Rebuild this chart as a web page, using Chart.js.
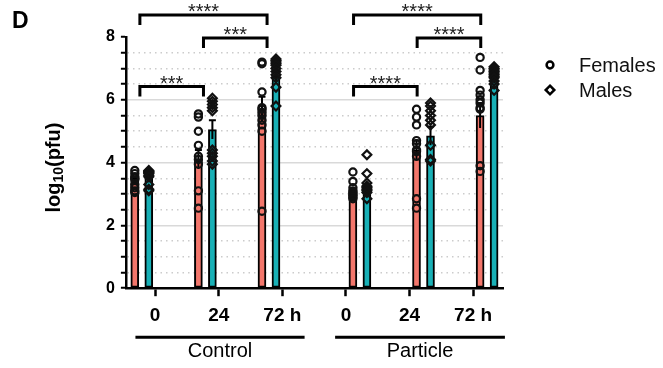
<!DOCTYPE html>
<html>
<head>
<meta charset="utf-8">
<script src="https://cdn.jsdelivr.net/npm/chart.js@4.4.0/dist/chart.umd.min.js"></script>
<style>
  html, body { margin: 0; padding: 0; background: #fff; }
  #wrap { width: 663px; height: 368px; }
</style>
</head>
<body>
<div id="wrap"><canvas id="pfuChart" width="663" height="368"></canvas></div>
<script>
// Virus titre, log10(pfu)

const timeLabels = ['0', '24', '72 h'];
const groupNames = ['Control', 'Particle'];

const controlFemaleMean = [3.4, 4.1, 5.7];
const controlFemaleSem = [0.08, 0.3, 0.4];
const controlMaleMean = [3.55, 5.05, 6.75];
const controlMaleSem = [0.07, 0.3, 0.15];
const particleFemaleMean = [3.0, 4.4, 5.5];
const particleFemaleSem = [0.1, 0.3, 0.4];
const particleMaleMean = [3.15, 4.85, 6.7];
const particleMaleSem = [0.12, 0.3, 0.08];

const controlFemalePoints = [
    [3.75, 3.65, 3.55, 3.5, 3.45, 3.3, 3.2, 3.1, 3.05],
    [5.55, 5.45, 5.0, 4.55, 4.2, 4.1, 3.95, 3.1, 2.55],
    [7.2, 7.15, 6.25, 5.75, 5.7, 5.6, 5.5, 5.35, 5.2, 5.0, 2.45]
];
const controlMalePoints = [
    [3.75, 3.72, 3.7, 3.68, 3.65, 3.6, 3.55, 3.3, 3.15, 3.1],
    [6.05, 5.95, 5.85, 5.75, 5.65, 4.4, 4.3, 4.2, 4.05, 3.95],
    [7.3, 7.25, 7.2, 7.15, 7.1, 7.0, 6.9, 6.8, 6.7, 6.4, 5.8]
];
const particleFemalePoints = [
    [3.7, 3.4, 3.2, 3.1, 3.05, 3.0, 2.95, 2.9, 2.85],
    [5.7, 5.45, 5.2, 4.7, 4.6, 4.4, 4.35, 4.2, 2.85, 2.55],
    [7.35, 6.95, 6.3, 6.15, 6.0, 5.9, 5.75, 5.7, 3.9, 3.72]
];
const particleMalePoints = [
    [4.25, 3.65, 3.35, 3.25, 3.2, 3.15, 3.1, 3.05, 2.85],
    [5.9, 5.8, 5.65, 5.5, 5.35, 5.2, 4.55, 4.1, 4.05],
    [7.05, 7.0, 6.95, 6.9, 6.85, 6.8, 6.75, 6.7, 6.6, 6.5, 6.3]
];

// significance brackets: group, from time, to time, stars, tier
const comparisons = [
    [0, 0, 1, '***', 0],
    [0, 1, 2, '***', 1],
    [0, 0, 2, '****', 2],
    [1, 0, 1, '****', 0],
    [1, 1, 2, '****', 1],
    [1, 0, 2, '****', 2]
];

const femaleColor = '#f3766b';
const maleColor = '#18b0b6';
const FONT = "'Liberation Sans', Arial, sans-serif";

// every group has 3 time points; slot index on the x axis = group*3 + time
const allLabels = groupNames.flatMap(() => timeLabels);
const barOffset = { cf: -0.32, cm: -0.1, pf: 0.11, pm: 0.33 };
const tierLevel = [6.42, 7.97, 8.7];
const legOffset = [-0.24, 0.12];
const groupLineSpan = [[-0.31, 2.35], [-0.17, 2.5]];

const barSet = (label, means, sems, group, off, color) => ({
    type: 'bar',
    label: label,
    data: means.map((m, i) => ({ x: group * 3 + i + off, y: m })),
    sem: sems,
    backgroundColor: color,
    borderColor: '#000',
    borderWidth: 2,
    borderSkipped: false,
    barThickness: 8,
    grouped: false,
    order: 2
});

const pointSet = (label, pts, group, off, style) => ({
    type: 'scatter',
    label: label,
    data: pts.flatMap((arr, i) => arr.map(v => ({ x: group * 3 + i + off, y: v }))),
    pointStyle: style,
    pointRadius: style === 'circle' ? 3.6 : 4.4,
    borderWidth: 2.2,
    borderColor: '#111',
    backgroundColor: 'rgba(0,0,0,0)',
    clip: false,
    order: 1
});

const errorBars = {
    id: 'errorBars',
    afterDatasetDraw(chart, args) {
        const ds = chart.data.datasets[args.index];
        if (!ds.sem) return;
        const ctx = chart.ctx;
        const y = chart.scales.y;
        ctx.save();
        ctx.strokeStyle = '#000';
        ctx.lineWidth = 2;
        args.meta.data.forEach((bar, i) => {
            const m = ds.data[i].y, s = ds.sem[i];
            const top = y.getPixelForValue(m + s);
            const bot = y.getPixelForValue(m - s);
            ctx.beginPath();
            ctx.moveTo(bar.x, bot);
            ctx.lineTo(bar.x, top);
            ctx.moveTo(bar.x - 3.5, top);
            ctx.lineTo(bar.x + 3.5, top);
            ctx.stroke();
        });
        ctx.restore();
    }
};

const annotations = {
    id: 'annotations',
    afterDraw(chart) {
        const ctx = chart.ctx;
        const x = chart.scales.x, y = chart.scales.y;
        const area = chart.chartArea;
        ctx.save();

        // panel letter
        ctx.fillStyle = '#000';
        ctx.font = 'bold 23px ' + FONT;
        ctx.textAlign = 'left';
        ctx.textBaseline = 'alphabetic';
        ctx.fillText('D', 12, 28);

        // y title with subscript
        ctx.save();
        ctx.translate(54, (area.top + area.bottom) / 2 + 5);
        ctx.rotate(-Math.PI / 2);
        const big = 'bold 20px ' + FONT, small = 'bold 14px ' + FONT;
        ctx.font = big; const w1 = ctx.measureText('log').width, w3 = ctx.measureText('(pfu)').width;
        ctx.font = small; const w2 = ctx.measureText('10').width;
        let cx = -(w1 + w2 + w3) / 2;
        ctx.textBaseline = 'middle';
        ctx.font = big; ctx.fillText('log', cx, 0); cx += w1;
        ctx.font = small; ctx.fillText('10', cx, 5); cx += w2;
        ctx.font = big; ctx.fillText('(pfu)', cx, 0);
        ctx.restore();

        // group lines and names
        const lineY = area.bottom + 49;
        ctx.strokeStyle = '#000';
        ctx.lineWidth = 3;
        ctx.font = '20px ' + FONT;
        ctx.textAlign = 'center';
        ctx.textBaseline = 'middle';
        groupNames.forEach((g, gi) => {
            const x1 = x.getPixelForValue(gi * 3 + groupLineSpan[gi][0]);
            const x2 = x.getPixelForValue(gi * 3 + groupLineSpan[gi][1]);
            ctx.beginPath();
            ctx.moveTo(x1, lineY);
            ctx.lineTo(x2, lineY);
            ctx.stroke();
            ctx.fillText(g, (x1 + x2) / 2, lineY + 14);
        });

        // significance brackets
        ctx.lineWidth = 3;
        ctx.font = '20px ' + FONT;
        ctx.textBaseline = 'alphabetic';
        comparisons.forEach(([g, a, b, stars, tier]) => {
            const xa = x.getPixelForValue(g * 3 + a + legOffset[g]);
            const xb = x.getPixelForValue(g * 3 + b + legOffset[g]);
            const yb = y.getPixelForValue(tierLevel[tier]);
            ctx.beginPath();
            ctx.moveTo(xa, yb + 10);
            ctx.lineTo(xa, yb);
            ctx.lineTo(xb, yb);
            ctx.lineTo(xb, yb + 10);
            ctx.stroke();
            ctx.fillStyle = '#222';
            ctx.fillText(stars, (xa + xb) / 2, yb + 3);
        });

        // legend
        const lx = 550;
        ctx.strokeStyle = '#000';
        ctx.lineWidth = 2.5;
        ctx.beginPath();
        ctx.arc(lx, 65, 3.4, 0, Math.PI * 2);
        ctx.stroke();
        ctx.beginPath();
        ctx.moveTo(lx, 90 - 4.3); ctx.lineTo(lx + 4.3, 90);
        ctx.lineTo(lx, 90 + 4.3); ctx.lineTo(lx - 4.3, 90);
        ctx.closePath();
        ctx.stroke();
        ctx.fillStyle = '#111';
        ctx.font = '20px ' + FONT;
        ctx.textAlign = 'left';
        ctx.textBaseline = 'middle';
        ctx.fillText('Females', 579, 66);
        ctx.fillText('Males', 579, 91);

        ctx.restore();
    }
};

const ctx = document.getElementById('pfuChart').getContext('2d');
new Chart(ctx, {
    data: {
        datasets: [
            barSet('Control Females', controlFemaleMean, controlFemaleSem, 0, barOffset.cf, femaleColor),
            barSet('Control Males', controlMaleMean, controlMaleSem, 0, barOffset.cm, maleColor),
            barSet('Particle Females', particleFemaleMean, particleFemaleSem, 1, barOffset.pf, femaleColor),
            barSet('Particle Males', particleMaleMean, particleMaleSem, 1, barOffset.pm, maleColor),
            pointSet('Females', controlFemalePoints, 0, barOffset.cf, 'circle'),
            pointSet('Males', controlMalePoints, 0, barOffset.cm, 'rectRot'),
            pointSet('Females', particleFemalePoints, 1, barOffset.pf, 'circle'),
            pointSet('Males', particleMalePoints, 1, barOffset.pm, 'rectRot')
        ]
    },
    options: {
        responsive: false,
        animation: false,
        events: [],
        layout: { padding: { left: 100, right: 160, top: 37, bottom: 33 } },
        plugins: { legend: { display: false }, tooltip: { enabled: false } },
        scales: {
            x: {
                type: 'linear',
                offset: false,
                min: -0.46,
                max: 5.47,
                afterBuildTicks: (s) => { s.ticks = allLabels.map((_, i) => ({ value: i })); },
                ticks: {
                    callback: (v) => allLabels[v],
                    autoSkip: false,
                    maxRotation: 0,
                    padding: 8,
                    color: '#000',
                    font: { family: FONT, size: 19, weight: 'bold' }
                },
                grid: { offset: false, drawOnChartArea: false, drawTicks: true, tickLength: 8, tickColor: '#000', tickWidth: 2.5 },
                border: { color: '#000', width: 2.5 }
            },
            y: {
                min: 0,
                max: 8,
                afterBuildTicks: (s) => {
                    const t = [];
                    for (let v = 0; v <= 8; v += 0.5) t.push({ value: v });
                    s.ticks = t;
                },
                ticks: {
                    callback: (v) => (v % 2 === 0 ? v : ''),
                    autoSkip: false,
                    padding: 6,
                    color: '#000',
                    font: { family: FONT, size: 16, weight: 'bold' }
                },
                grid: {
                    color: (c) => {
                        const v = c.tick ? c.tick.value : 0;
                        if (v === 0 || v === 8) return 'rgba(0,0,0,0)';
                        return v % 2 === 0 ? '#d9d9d9' : '#cccccc';
                    },
                    lineWidth: 1.5,
                    tickLength: 5,
                    tickColor: '#000',
                    tickWidth: 2
                },
                border: {
                    color: '#000',
                    width: 2.5,
                    dash: (c) => (c.tick && c.tick.value % 2 !== 0 ? [1.5, 4] : [])
                }
            }
        }
    },
    plugins: [errorBars, annotations]
});
</script>
</body>
</html>
